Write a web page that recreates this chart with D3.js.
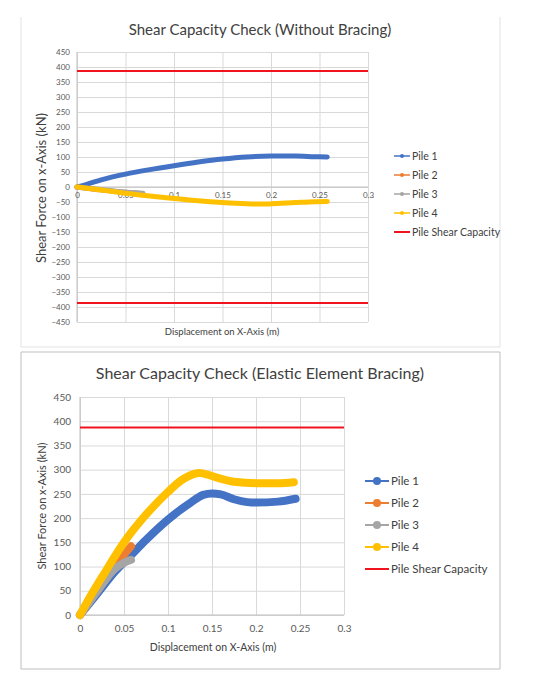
<!DOCTYPE html>
<html>
<head>
<meta charset="utf-8">
<script src="https://cdn.jsdelivr.net/npm/d3@7"></script>
<style>
  body { margin: 0; background: #fff; }
  svg { font-family: Lato, "Open Sans", sans-serif; }
</style>
</head>
<body>
<div id="chart"></div>
<script>
// Series: [displacement (m), shear force (kN)]
var woPile1 = [[0,0],[0.01,9],[0.025,24],[0.05,43],[0.075,58],[0.1,71],[0.125,83],[0.15,93],[0.175,100],[0.2,103],[0.225,103],[0.245,101],[0.258,100]];
var woPile2 = [[0,0],[0.02,-8],[0.045,-17],[0.066,-22]];
var woPile3 = [[0,0],[0.02,-7],[0.045,-16],[0.068,-21]];
var woPile4 = [[0,0],[0.01,-4],[0.025,-10],[0.05,-21],[0.075,-30],[0.1,-38],[0.125,-46],[0.15,-52],[0.175,-56],[0.19,-57],[0.2,-56],[0.225,-52],[0.245,-49],[0.258,-48]];

var elPile1 = [[0,0],[0.02,45],[0.04,90],[0.06,127],[0.075,155],[0.1,197],[0.125,231],[0.14,248],[0.15,251],[0.16,249],[0.175,239],[0.19,233],[0.2,232],[0.225,234],[0.245,240]];
var elPile2 = [[0,0],[0.02,52],[0.04,102],[0.058,142]];
var elPile3 = [[0,0],[0.02,50],[0.04,96],[0.05,108],[0.058,114]];
var elPile4 = [[0,0],[0.01,33],[0.025,78],[0.05,150],[0.075,207],[0.1,254],[0.115,278],[0.125,288],[0.135,293],[0.145,290],[0.155,284],[0.175,275],[0.2,272],[0.225,272],[0.243,274]];

// Pile shear capacity (kN)
var shearCapacity = 387;

// Axis ticks
var xTicks = [0, 0.05, 0.1, 0.15, 0.2, 0.25, 0.3];
var woYTicks = d3.range(-450, 451, 50);
var elYTicks = d3.range(0, 451, 50);

var seriesNames = ["Pile 1", "Pile 2", "Pile 3", "Pile 4", "Pile Shear Capacity"];
var seriesColors = ["#4472c4", "#ed7d31", "#a5a5a5", "#ffc000", "#f0141e"];

var svg = d3.select("#chart")
    .append("svg")
    .attr("width", 534)
    .attr("height", 682);

// Draws one Excel-style chart into the svg
function drawChart(cfg) {
    var x = d3.scaleLinear().domain([0, 0.3]).range([cfg.left, cfg.right]);
    var y = d3.scaleLinear().domain(cfg.yDomain).range([cfg.bottom, cfg.top]);

    var g = svg.append("g");

    // Frame
    cfg.frame.forEach(function(f) {
        g.append("line").attr("x1", f[0]).attr("y1", f[1]).attr("x2", f[2]).attr("y2", f[3])
            .attr("stroke", cfg.frameColor).attr("stroke-width", 1);
    });

    // Gridlines
    g.append("g")
        .attr("transform", "translate(" + cfg.left + ",0)")
        .call(d3.axisLeft(y).tickValues(cfg.yTicks).tickSize(-(cfg.right - cfg.left)).tickFormat(""))
        .call(s => s.select(".domain").remove())
        .call(s => s.selectAll("line").attr("stroke", "#d9d9d9"));
    g.append("g")
        .attr("transform", "translate(0," + cfg.bottom + ")")
        .call(d3.axisBottom(x).tickValues(xTicks).tickSize(-(cfg.bottom - cfg.top)).tickFormat(""))
        .call(s => s.select(".domain").remove())
        .call(s => s.selectAll("line").attr("stroke", "#d9d9d9"));

    // Axis lines at zero
    g.append("line").attr("x1", x(0)).attr("x2", x(0)).attr("y1", cfg.top).attr("y2", cfg.bottom)
        .attr("stroke", "#bfbfbf");
    g.append("line").attr("x1", cfg.left).attr("x2", cfg.right).attr("y1", y(0)).attr("y2", y(0))
        .attr("stroke", "#bfbfbf");

    // Y tick labels
    g.append("g")
        .attr("transform", "translate(" + cfg.left + ",0)")
        .call(d3.axisLeft(y).tickValues(cfg.yTicks).tickSize(0).tickPadding(cfg.yPad))
        .call(s => s.select(".domain").remove())
        .call(s => s.selectAll("text").attr("fill", "#595959").style("font-size", cfg.tickFont + "px")
            .style("font-family", "Lato, sans-serif"));

    // X tick labels
    g.append("g")
        .attr("transform", "translate(0," + y(0) + ")")
        .call(d3.axisBottom(x).tickValues(xTicks).tickSize(0).tickPadding(cfg.xPad).tickFormat(d3.format("")))
        .call(s => s.select(".domain").remove())
        .call(s => s.selectAll("text").attr("fill", "#595959").style("font-size", cfg.tickFont + "px")
            .style("font-family", "Lato, sans-serif"));

    // Series
    var line = d3.line().x(d => x(d[0])).y(d => y(d[1])).curve(d3.curveMonotoneX);
    cfg.series.forEach(function(s, i) {
        g.append("path")
            .datum(s)
            .attr("d", line)
            .attr("fill", "none")
            .attr("stroke", seriesColors[i])
            .attr("stroke-width", cfg.lineWidth)
            .attr("stroke-linecap", "round")
            .attr("stroke-linejoin", "round");
    });

    // Capacity lines
    cfg.capacity.forEach(function(c) {
        g.append("line")
            .attr("x1", cfg.left).attr("x2", cfg.right)
            .attr("y1", y(c)).attr("y2", y(c))
            .attr("stroke", seriesColors[4]).attr("stroke-width", 2);
    });

    // Title
    g.append("text")
        .attr("x", 260).attr("y", cfg.titleY)
        .attr("text-anchor", "middle")
        .attr("fill", "#404040")
        .style("font-size", cfg.titleFont + "px")
        .text(cfg.title);

    // Axis titles
    g.append("text")
        .attr("x", cfg.xTitleX).attr("y", cfg.xTitleY)
        .attr("text-anchor", "middle")
        .attr("fill", "#404040")
        .style("font-size", cfg.xTitleFont + "px")
        .text("Displacement on X-Axis  (m)");
    g.append("text")
        .attr("transform", "translate(" + cfg.yTitleX + "," + cfg.yTitleY + ") rotate(-90)")
        .attr("text-anchor", "middle")
        .attr("fill", "#404040")
        .style("font-size", cfg.yTitleFont + "px")
        .text("Shear Force on x-Axis (kN)");

    // Legend
    var leg = g.append("g");
    seriesNames.forEach(function(name, i) {
        var ly = cfg.legTop + i * cfg.legStep;
        leg.append("line")
            .attr("x1", cfg.legX).attr("x2", cfg.legX + cfg.legLen)
            .attr("y1", ly).attr("y2", ly)
            .attr("stroke", seriesColors[i])
            .attr("stroke-width", i == 4 ? 2 : cfg.legLineWidth);
        if (i < 4) {
            leg.append("circle")
                .attr("cx", cfg.legX + cfg.legLen / 2).attr("cy", ly)
                .attr("r", cfg.legDot)
                .attr("fill", seriesColors[i]);
        }
        leg.append("text")
            .attr("x", cfg.legX + cfg.legLen + 2).attr("y", ly)
            .attr("dy", "0.35em")
            .attr("fill", "#404040")
            .style("font-size", cfg.legFont + "px")
            .text(name);
    });
}

drawChart({
    title: "Shear Capacity Check (Without Bracing)",
    left: 77, right: 368, top: 52, bottom: 322,
    yDomain: [-450, 450], yTicks: woYTicks,
    series: [woPile1, woPile2, woPile3, woPile4],
    capacity: [shearCapacity, -shearCapacity],
    lineWidth: 5,
    frame: [[21, 17, 21, 347], [500, 17, 500, 347], [21, 347, 500, 347]],
    frameColor: "#e3e3e3",
    tickFont: 8, yPad: 7, xPad: 5,
    titleY: 35, titleFont: 15,
    xTitleX: 222, xTitleY: 335, xTitleFont: 9.5,
    yTitleX: 46, yTitleY: 188, yTitleFont: 13,
    legX: 394, legLen: 16, legTop: 156, legStep: 19, legFont: 10.5, legDot: 2, legLineWidth: 1.5
});

drawChart({
    title: "Shear Capacity Check (Elastic Element Bracing)",
    left: 80, right: 344, top: 397, bottom: 615,
    yDomain: [0, 450], yTicks: elYTicks,
    series: [elPile1, elPile2, elPile3, elPile4],
    capacity: [shearCapacity],
    lineWidth: 8,
    frame: [[21, 352, 500, 352], [21, 352, 21, 669], [500, 352, 500, 669], [21, 669, 500, 669]],
    frameColor: "#bfbfbf",
    tickFont: 10, yPad: 9, xPad: 10,
    titleY: 379, titleFont: 16,
    xTitleX: 213, xTitleY: 651, xTitleFont: 10.5,
    yTitleX: 46, yTitleY: 506, yTitleFont: 11,
    legX: 365, legLen: 24, legTop: 481, legStep: 22, legFont: 11.5, legDot: 4, legLineWidth: 2
});
</script>
</body>
</html>
